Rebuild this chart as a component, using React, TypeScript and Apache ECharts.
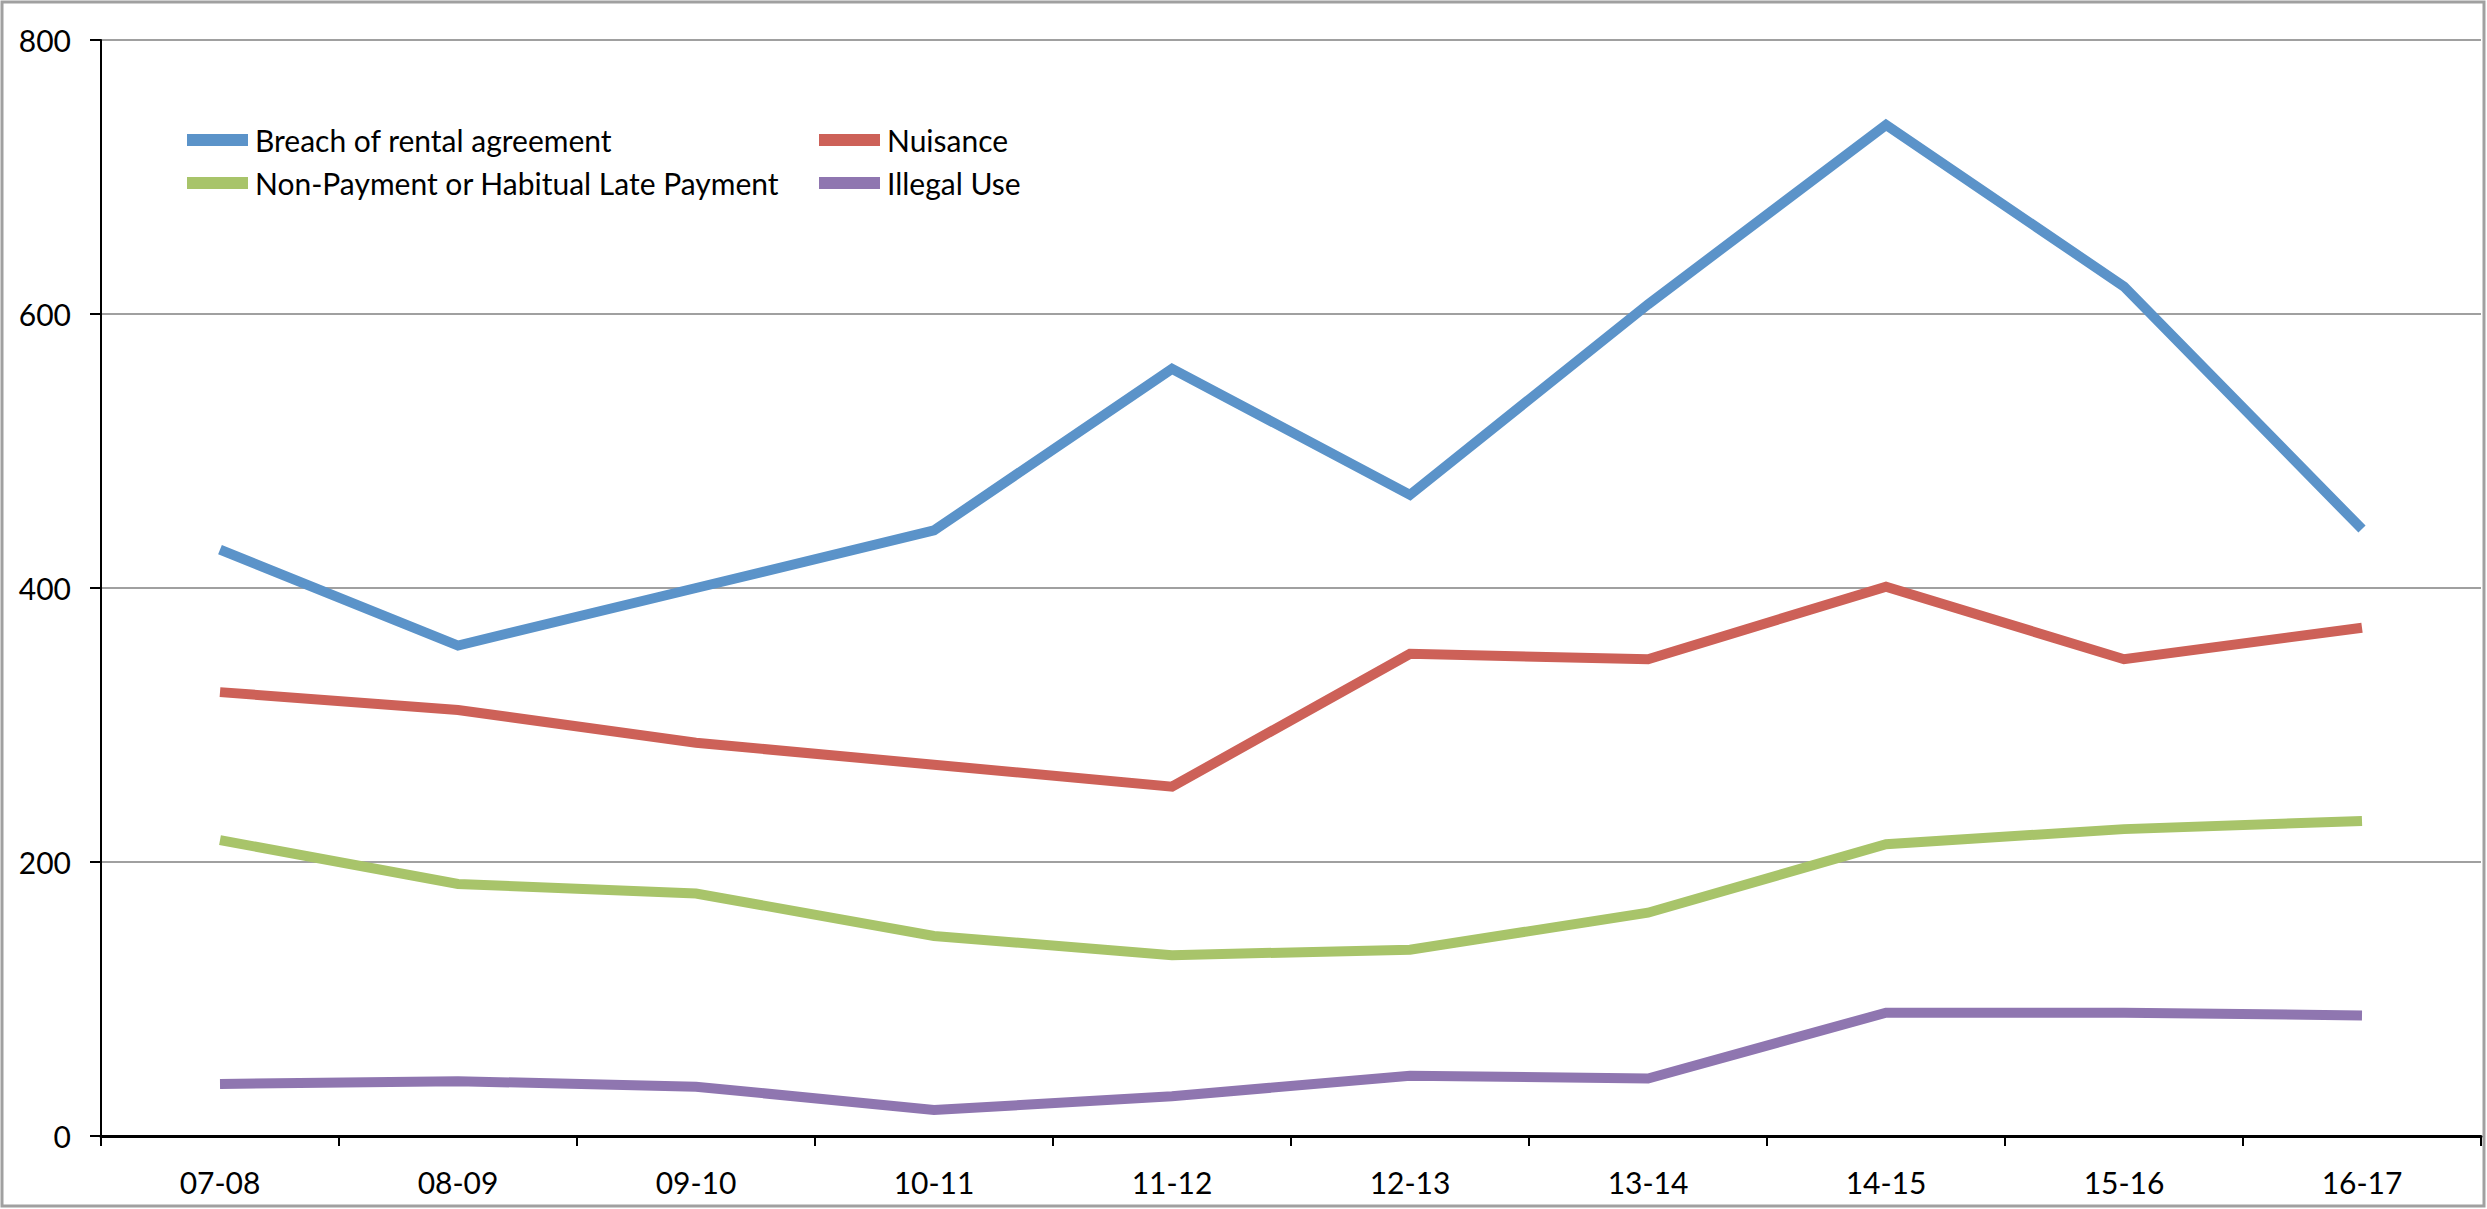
import React, { useEffect, useRef } from "react";
import * as echarts from "echarts";

// Financial years on the category axis
const categories = ["07-08", "08-09", "09-10", "10-11", "11-12", "12-13", "13-14", "14-15", "15-16", "16-17"];

// Cases per year by reason
const breachOfRental = [428, 358, 400, 442, 560, 468, 607, 738, 620, 443];
const nuisance = [324, 311, 287, 271, 255, 352, 348, 401, 348, 371];
const nonPayment = [216, 184, 177, 146, 132, 136, 163, 213, 224, 230];
const illegalUse = [38, 40, 36, 19, 29, 44, 42, 90, 90, 88];

const seriesNames = [
  "Breach of rental agreement",
  "Nuisance",
  "Non-Payment or Habitual Late Payment",
  "Illegal Use",
];
const seriesColors = ["#5b93c9", "#cd6158", "#a8c46a", "#8f76b0"];
const seriesData = [breachOfRental, nuisance, nonPayment, illegalUse];

const FONT = "Lato, 'Liberation Sans', sans-serif";

export default function App() {
  const ref = useRef<HTMLDivElement>(null);

  useEffect(() => {
    document.body.style.margin = "0";
    if (!ref.current) return;
    const chart = echarts.init(ref.current, undefined, { renderer: "svg" });

    const legendText = {
      fontSize: 30,
      fontFamily: FONT,
      color: "#000",
      lineHeight: 30,
      padding: [0, 0, 0, 2],
    };
    const legendBase = {
      orient: "vertical",
      top: 125,
      icon: "rect",
      itemWidth: 61,
      itemHeight: 12,
      itemGap: 13,
      padding: 0,
      textStyle: legendText,
    };

    chart.setOption({
      animation: false,
      backgroundColor: "#fff",
      grid: { left: 101, top: 40, right: 6, bottom: 73 },
      graphic: [
        {
          type: "rect",
          shape: { x: 2, y: 2, width: 2482, height: 1204 },
          style: { fill: "none", stroke: "#a0a0a0", lineWidth: 3 },
          silent: true,
          z: -1,
        },
      ],
      legend: [
        { ...legendBase, data: [seriesNames[0], seriesNames[2]], left: 187 },
        { ...legendBase, data: [seriesNames[1], seriesNames[3]], left: 819 },
      ],
      xAxis: {
        type: "category",
        data: categories,
        boundaryGap: true,
        axisLine: { lineStyle: { color: "#000", width: 3 } },
        axisTick: { show: true, length: 10, lineStyle: { color: "#000", width: 2 } },
        axisLabel: { fontSize: 30, fontFamily: FONT, color: "#000", margin: 31 },
        splitLine: { show: false },
      },
      yAxis: {
        type: "value",
        min: 0,
        max: 800,
        interval: 200,
        axisLine: { show: true, lineStyle: { color: "#000", width: 2 } },
        axisTick: { show: true, length: 11, lineStyle: { color: "#000", width: 2 } },
        axisLabel: { fontSize: 30, fontFamily: FONT, color: "#000", margin: 30 },
        splitLine: { show: true, lineStyle: { color: "#a0a0a0", width: 2 } },
      },
      series: seriesNames.map((name, i) => ({
        name,
        type: "line",
        data: seriesData[i],
        showSymbol: false,
        symbol: "none",
        color: seriesColors[i],
        lineStyle: { width: 10, color: seriesColors[i], cap: "butt", join: "miter" },
      })),
    });

    return () => chart.dispose();
  }, []);

  return <div ref={ref} style={{ width: 2487, height: 1209 }} />;
}
